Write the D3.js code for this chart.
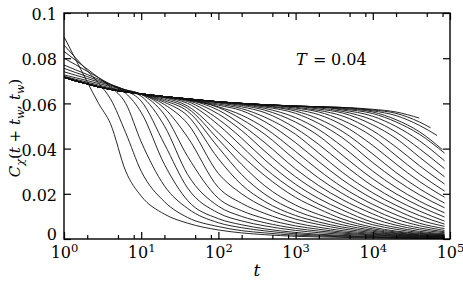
<!DOCTYPE html>
<html>
<head>
<meta charset="utf-8">
<script src="https://cdn.jsdelivr.net/npm/d3@7"></script>
<style>
  body { margin: 0; background: #fff; }
</style>
</head>
<body>
<div id="chart"></div>
<script>
// time grid shared by all curves (t), last point = end of run
var tGrid = [1, 1.4, 2, 2.8, 4, 6.3, 10, 20, 40, 100, 200, 400, 1000, 2000, 4000, 10000, 20000, 40000, 85000];

// common plateau the long-t_w curves sit on before they leave it
var plateau = [.0716, .0700, .0686, .0673, .0662, .0651, .0642, .0630, .0620, .0607, .0600, .0594, .0588, .0585, .0582, .0579, .0577, .0575, .0573];

// last time of each curve
var tEnd = [85000, 85000, 85000, 85000, 85000, 85000, 85000, 85000, 85000, 85000,
            85000, 85000, 85000, 85000, 85000, 85000, 85000, 85000, 85000, 85000,
            85000, 85000, 85000, 85000, 85000, 85000, 85000, 85000, 85000, 85000,
            85000, 85000, 85000, 80000, 68000, 56000, 40000];

// C_chi values, one array per t_w (aligned to the end; missing leading points = plateau)
var curves = [
  [.0895, .0798, .0695, .0600, .0510, .0300, .0190, .0110, .0070, .0040, .0027, .0019, .0012, .0009, .0007, .0005, .0004, .0003, .0002],
  [.0858, .0803, .0745, .0690, .0620, .0470, .0300, .0165, .0095, .0055, .0037, .0027, .0017, .0013, .0010, .0007, .0005, .0004, .0003],
  [.0830, .0792, .0752, .0714, .0673, .0600, .0430, .0235, .0135, .0072, .0050, .0036, .0023, .0017, .0013, .0009, .0007, .0005, .0004],
  [.0800, .0772, .0742, .0714, .0684, .0645, .0560, .0330, .0170, .0090, .0063, .0045, .0029, .0021, .0016, .0011, .0008, .0006, .0005],
  [.0770, .0749, .0728, .0707, .0685, .0657, .0610, .0420, .0225, .0115, .0080, .0058, .0038, .0028, .0021, .0015, .0011, .0008, .0006],
  [.0755, .0737, .0719, .0701, .0683, .0659, .0632, .0500, .0285, .0145, .0100, .0072, .0047, .0035, .0026, .0018, .0013, .0010, .0007],
  [.0740, .0725, .0710, .0695, .0680, .0660, .0640, .0550, .0365, .0180, .0125, .0090, .0058, .0043, .0031, .0021, .0016, .0012, .0009],
  [.0726, .0714, .0701, .0688, .0675, .0659, .0642, .0578, .0450, .0228, .0158, .0113, .0071, .0052, .0037, .0025, .0018, .0013, .0010],
  [.0720, .0707, .0694, .0681, .0669, .0655, .0640, .0595, .0510, .0290, .0200, .0140, .0088, .0064, .0045, .0029, .0021, .0015, .0011],
  [.0717, .0703, .0689, .0676, .0665, .0653, .0640, .0605, .0545, .0355, .0240, .0166, .0104, .0075, .0053, .0034, .0024, .0017, .0012],
  [.0716, .0701, .0687, .0674, .0663, .0652, .0641, .0612, .0565, .0405, .0285, .0198, .0125, .0090, .0063, .0039, .0027, .0019, .0014],
  [.0716, .0700, .0686, .0673, .0662, .0651, .0641, .0618, .0578, .0440, .0330, .0235, .0150, .0108, .0075, .0045, .0031, .0022, .0016],
  [.0650, .0640, .0624, .0588, .0470, .0370, .0280, .0184, .0133, .0089, .0052, .0035, .0025, .0018],
  [.0641, .0627, .0600, .0505, .0410, .0313, .0212, .0154, .0108, .0063, .0043, .0029, .0020],
  [.0628, .0608, .0530, .0446, .0350, .0242, .0179, .0129, .0074, .0051, .0034, .0023],
  [.0629, .0613, .0553, .0480, .0388, .0275, .0207, .0151, .0091, .0061, .0041, .0028],
  [.0616, .0570, .0505, .0426, .0310, .0236, .0175, .0111, .0072, .0049, .0032],
  [.0618, .0582, .0530, .0463, .0349, .0269, .0202, .0131, .0088, .0059, .0038],
  [.0615, .0585, .0548, .0491, .0387, .0304, .0230, .0153, .0107, .0070, .0046],
  [.0617, .0592, .0568, .0519, .0426, .0342, .0263, .0178, .0128, .0085, .0056],
  [.0618, .0597, .0577, .0539, .0463, .0380, .0296, .0204, .0149, .0104, .0066],
  [.0602, .0585, .0559, .0490, .0418, .0335, .0234, .0173, .0124, .0079],
  [.0604, .0591, .0570, .0517, .0456, .0372, .0266, .0200, .0146, .0097],
  [.0595, .0578, .0537, .0484, .0410, .0300, .0228, .0168, .0116],
  [.0597, .0584, .0556, .0511, .0449, .0338, .0261, .0196, .0138],
  [.0588, .0566, .0531, .0477, .0376, .0294, .0223, .0159],
  [.0590, .0573, .0550, .0505, .0414, .0332, .0255, .0185],
  [.0579, .0562, .0526, .0452, .0369, .0288, .0212],
  [.0583, .0569, .0545, .0479, .0407, .0325, .0243],
  [.0575, .0558, .0505, .0445, .0363, .0275],
  [.0580, .0565, .0526, .0473, .0400, .0311],
  [.0571, .0543, .0498, .0435, .0346],
  [.0575, .0555, .0518, .0464, .0380],
  [.0578, .0562, .0528, .0475, .0395],
  [.0567, .0546, .0503, .0458],
  [.0571, .0556, .0518, .0492],
  [.0574, .0562, .0535]
];

var xMajor = [1, 10, 100, 1000, 10000, 100000];
var xMinor = [2, 5, 8, 20, 50, 80, 200, 500, 800, 2000, 5000, 8000, 20000, 50000, 80000];
var yTicks = [0, 0.02, 0.04, 0.06, 0.08, 0.1];
var yTickLabels = ["0", "0.02", "0.04", "0.06", "0.08", "0.1"];

var serif = "'DejaVu Serif', 'Liberation Serif', serif";

var margin = {top: 13, right: 13, bottom: 44, left: 64};
var width = 463 - margin.left - margin.right;
var height = 283 - margin.top - margin.bottom;

var svg = d3.select("#chart").append("svg")
    .attr("width", 463)
    .attr("height", 283)
    .style("font-family", serif);

var g = svg.append("g")
    .attr("transform", "translate(" + margin.left + "," + margin.top + ")");

var x = d3.scaleLog().domain([1, 100000]).range([0, width]);
var y = d3.scaleLinear().domain([0, 0.1]).range([height, 0]);

// curves
var line = d3.line()
    .x(function (d) { return x(d[0]); })
    .y(function (d) { return y(d[1]); })
    .curve(d3.curveMonotoneX);

var data = curves.map(function (vals, k) {
    var end = tEnd[k];
    var ts = tGrid.filter(function (t) { return t < end; }).concat([end]);
    var off = ts.length - vals.length;
    return ts.map(function (t, i) {
        return [t, i < off ? plateau[i] : vals[i - off]];
    });
});

g.append("g")
    .selectAll("path")
    .data(data)
    .enter().append("path")
        .attr("d", line)
        .attr("fill", "none")
        .attr("stroke", "#111")
        .attr("stroke-width", 0.9);

// axes with inward ticks
function styleAxis(sel) {
    sel.attr("font-family", null);
    sel.select(".domain").remove();
    sel.selectAll(".tick line").attr("stroke", "#000").attr("stroke-width", 1.2);
    sel.selectAll("text").attr("fill", "#000").attr("font-size", 16)
        .style("font-family", serif);
}

var axBottom = g.append("g")
    .attr("transform", "translate(0," + height + ")")
    .call(d3.axisBottom(x).tickValues(xMajor).tickSize(-7).tickSizeOuter(0).tickPadding(8));
styleAxis(axBottom);
axBottom.selectAll(".tick text").text(null).each(function (d) {
    var t = d3.select(this);
    t.append("tspan").text("10");
    t.append("tspan").attr("dy", -6).attr("font-size", 11.5).text(Math.round(Math.log10(d)));
});

var axBottomMinor = g.append("g")
    .attr("transform", "translate(0," + height + ")")
    .call(d3.axisBottom(x).tickValues(xMinor).tickSize(-4).tickSizeOuter(0).tickFormat(""));
styleAxis(axBottomMinor);

var axTop = g.append("g")
    .call(d3.axisTop(x).tickValues(xMajor).tickSize(-7).tickSizeOuter(0).tickFormat(""));
styleAxis(axTop);
var axTopMinor = g.append("g")
    .call(d3.axisTop(x).tickValues(xMinor).tickSize(-4).tickSizeOuter(0).tickFormat(""));
styleAxis(axTopMinor);

var axLeft = g.append("g")
    .call(d3.axisLeft(y).tickValues(yTicks).tickSize(-7).tickSizeOuter(0).tickPadding(7)
        .tickFormat(function (d, i) { return yTickLabels[i]; }));
styleAxis(axLeft);
axLeft.selectAll(".tick text").attr("dy", function (d) { return d === 0 ? "0.05em" : "0.42em"; });

var axRight = g.append("g")
    .attr("transform", "translate(" + width + ",0)")
    .call(d3.axisRight(y).tickValues(yTicks).tickSize(-7).tickSizeOuter(0).tickFormat(""));
styleAxis(axRight);

// frame
g.append("rect")
    .attr("width", width)
    .attr("height", height)
    .attr("fill", "none")
    .attr("stroke", "#000")
    .attr("stroke-width", 1.4);

// axis labels
g.append("text")
    .attr("x", width / 2)
    .attr("y", height + 37)
    .attr("text-anchor", "middle")
    .attr("font-size", 17)
    .attr("font-style", "italic")
    .style("font-family", serif)
    .text("t");

var ylab = svg.append("text")
    .attr("transform", "translate(20," + (margin.top + height / 2 + 2) + ") rotate(-90)")
    .attr("text-anchor", "middle")
    .attr("font-size", 15)
    .style("font-family", serif);
ylab.append("tspan").attr("font-style", "italic").text("C");
ylab.append("tspan").attr("font-style", "italic").attr("font-size", 11).attr("dy", 4).text("χ");
ylab.append("tspan").attr("dy", -4).text("(");
ylab.append("tspan").attr("font-style", "italic").text("t");
ylab.append("tspan").text(" + ");
ylab.append("tspan").attr("font-style", "italic").text("t");
ylab.append("tspan").attr("font-style", "italic").attr("font-size", 11).attr("dy", 4).text("w");
ylab.append("tspan").attr("dy", -4).text(", ");
ylab.append("tspan").attr("font-style", "italic").text("t");
ylab.append("tspan").attr("font-style", "italic").attr("font-size", 11).attr("dy", 4).text("w");
ylab.append("tspan").attr("dy", -4).text(")");

var tl = svg.append("text")
    .attr("y", 65)
    .attr("font-size", 16)
    .style("font-family", serif);
tl.append("tspan").attr("x", 296).attr("font-style", "italic").text("T");
tl.append("tspan").attr("x", 313).text("=");
tl.append("tspan").attr("x", 331).text("0.04");
</script>
</body>
</html>
